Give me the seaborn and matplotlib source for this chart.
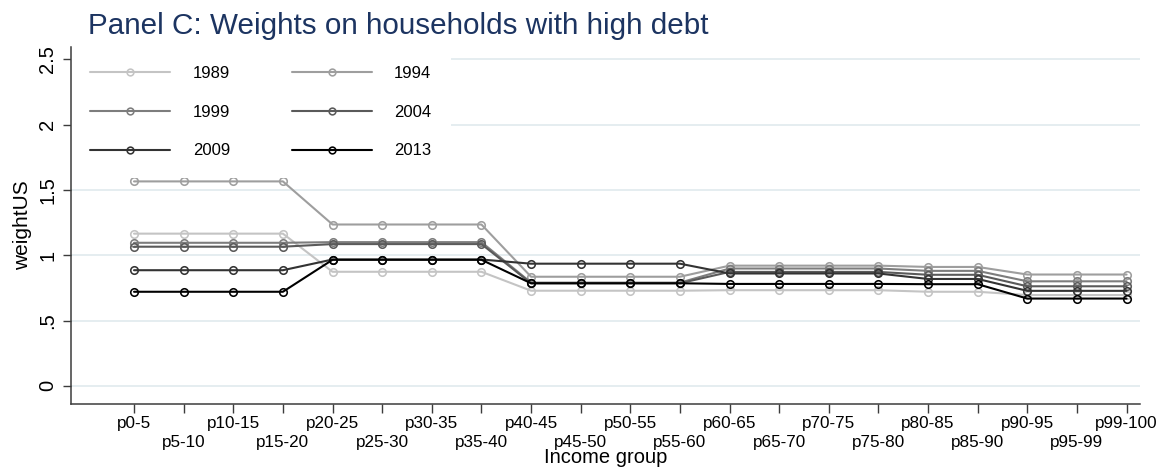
import numpy as np
import pandas as pd
import matplotlib
matplotlib.use("Agg")
import matplotlib.pyplot as plt
import seaborn as sns

# income groups along the x axis
groups = ["p0-5", "p5-10", "p10-15", "p15-20", "p20-25", "p25-30", "p30-35",
          "p35-40", "p40-45", "p45-50", "p50-55", "p55-60", "p60-65", "p65-70",
          "p70-75", "p75-80", "p80-85", "p85-90", "p90-95", "p95-99", "p99-100"]
years = ["1989", "1994", "1999", "2004", "2009", "2013"]

# weights, one list per survey year
w1989 = [1.165, 1.165, 1.165, 1.165, 0.873, 0.873, 0.873, 0.873, 0.728, 0.728, 0.728,
         0.728, 0.732, 0.732, 0.732, 0.732, 0.720, 0.720, 0.695, 0.695, 0.695]
w1994 = [1.565, 1.565, 1.565, 1.565, 1.235, 1.235, 1.235, 1.235, 0.835, 0.835, 0.835,
         0.835, 0.920, 0.920, 0.920, 0.920, 0.910, 0.910, 0.852, 0.852, 0.852]
w1999 = [1.095, 1.095, 1.095, 1.095, 1.100, 1.100, 1.100, 1.100, 0.790, 0.790, 0.790,
         0.790, 0.898, 0.898, 0.898, 0.898, 0.880, 0.880, 0.800, 0.800, 0.800]
w2004 = [1.065, 1.065, 1.065, 1.065, 1.085, 1.085, 1.085, 1.085, 0.785, 0.785, 0.785,
         0.785, 0.872, 0.872, 0.872, 0.872, 0.850, 0.850, 0.762, 0.762, 0.762]
w2009 = [0.885, 0.885, 0.885, 0.885, 0.967, 0.967, 0.967, 0.967, 0.935, 0.935, 0.935,
         0.935, 0.860, 0.860, 0.860, 0.860, 0.818, 0.818, 0.727, 0.727, 0.727]
w2013 = [0.720, 0.720, 0.720, 0.720, 0.965, 0.965, 0.965, 0.965, 0.785, 0.785, 0.785,
         0.785, 0.780, 0.780, 0.780, 0.780, 0.778, 0.778, 0.668, 0.668, 0.668]

ytick_vals = [0, 0.5, 1, 1.5, 2, 2.5]
ytick_labels = ["0", ".5", "1", "1.5", "2", "2.5"]

year_colors = ["#c4c4c4", "#9e9e9e", "#7d7d7d", "#5a5a5a", "#333333", "#000000"]

sns.set_theme(style="white")
plt.rcParams["font.family"] = ["Liberation Sans", "DejaVu Sans"]

series = [w1989, w1994, w1999, w2004, w2009, w2013]
df = pd.DataFrame({
    "Income group": groups * len(years),
    "weightUS": np.concatenate(series),
    "year": np.repeat(years, len(groups)),
})

W, H = 1161, 467
fig = plt.figure(figsize=(W / 100, H / 100), dpi=100)
ax = fig.add_axes([71 / W, 63.3 / H, (1139.5 - 71) / W, (420 - 63.3) / H])

sns.lineplot(data=df, x="Income group", y="weightUS", hue="year",
             hue_order=years, palette=year_colors, estimator=None, sort=False,
             marker="o", markersize=5.4, markerfacecolor="none",
             markeredgewidth=1.15, linewidth=1.5, legend=False, ax=ax)

# hollow circles in the line colour
for ln in ax.lines:
    ln.set_markeredgecolor(ln.get_color())
    ln.set_markerfacecolor("none")

ax.set_xlim(-1.27, 20.26)
ax.set_ylim(-0.137, 2.594)

ax.set_yticks(ytick_vals)
ax.set_yticklabels(ytick_labels, rotation=90, va="center")

# staggered x labels: even groups on the first row, odd groups one row lower
even = list(range(0, len(groups), 2))
odd = list(range(1, len(groups), 2))
ax.set_xticks(even)
ax.set_xticklabels([groups[i] for i in even])
ax.set_xticks(odd, minor=True)
ax.set_xticklabels([groups[i] for i in odd], minor=True)

ax.tick_params(axis="x", which="both", length=6.5, width=1, labelsize=12.3,
               color="#3c3c3c", labelcolor="black", bottom=True)
ax.tick_params(axis="x", which="major", pad=2.5)
ax.tick_params(axis="x", which="minor", pad=16)
ax.tick_params(axis="y", length=6, width=1, pad=4, labelsize=14.5,
               color="#3c3c3c", labelcolor="black", left=True)

ax.yaxis.grid(True, color="#e3ecef", linewidth=1.3)
ax.xaxis.grid(False)
ax.set_axisbelow(True)

for side in ["top", "right"]:
    ax.spines[side].set_visible(False)
for side in ["left", "bottom"]:
    ax.spines[side].set_color("#3c3c3c")
    ax.spines[side].set_linewidth(1.1)
    ax.spines[side].set_zorder(6)

ax.set_xlabel("Income group", fontsize=14.5, color="black")
ax.xaxis.label.set_va("baseline")
ax.xaxis.set_label_coords(0.5, (4 - 63.3) / (420 - 63.3))
ax.set_ylabel("weightUS", fontsize=15, color="black")
ax.yaxis.label.set_va("center")
ax.yaxis.set_label_coords((22.5 - 71) / (1139.5 - 71), 0.5)

# legend fills row by row: 1989 1994 / 1999 2004 / 2009 2013
handles = ax.lines[:len(years)]
order = [0, 2, 4, 1, 3, 5]
leg = ax.legend([handles[i] for i in order], [years[i] for i in order],
                ncol=2, loc="upper left", bbox_to_anchor=(0, 1),
                borderaxespad=0, borderpad=1.15, fontsize=12,
                handlelength=4.8, handletextpad=1.35, columnspacing=3.7,
                labelspacing=1.42, numpoints=1, markerscale=0.9,
                frameon=True, fancybox=False, framealpha=1)
leg.get_frame().set_facecolor("white")
leg.get_frame().set_edgecolor("none")
for txt in leg.get_texts():
    txt.set_color("black")
leg.set_zorder(5)

fig.text(88 / W, 1 - 33.5 / H, "Panel C: Weights on households with high debt",
         fontsize=21.3, color="#1c3461", ha="left", va="baseline")

fig.savefig("out.png", dpi=100, facecolor="white")
